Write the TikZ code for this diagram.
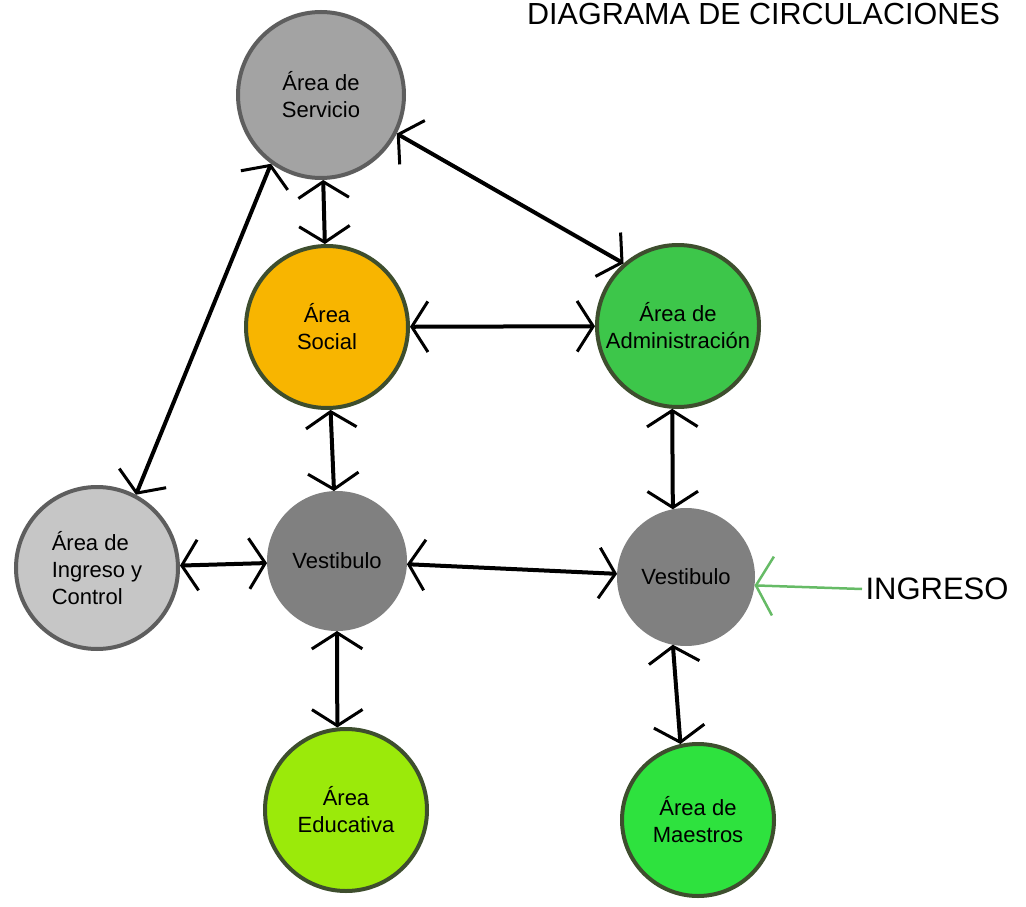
\documentclass[tikz,border=0pt]{standalone}
\usepackage{fontspec}
\setmainfont{Liberation Sans}
\usetikzlibrary{arrows.meta}

\definecolor{grisserv}{HTML}{A3A3A3}
\definecolor{grisingr}{HTML}{C6C6C6}
\definecolor{grisvest}{HTML}{808080}
\definecolor{naranja}{HTML}{F8B500}
\definecolor{verdeadm}{HTML}{3DC64A}
\definecolor{verdelima}{HTML}{9BEA0A}
\definecolor{verdemae}{HTML}{2EE23E}
\definecolor{bordeg}{HTML}{5E5E5E}
\definecolor{bordev}{HTML}{3E4E2E}
\definecolor{verdeflecha}{HTML}{66BB66}

\begin{document}
\begin{tikzpicture}[x=1pt, y=-1pt,
  area/.style={circle, line width=4pt, inner sep=0pt, align=center, font=\fontsize{22}{27}\selectfont},
  flecha/.style={<->, >={Straight Barb[angle=115:30pt, line width=3pt]}, line width=4pt},
  entrada/.style={->, >={Straight Barb[angle=120:34pt, line width=2.5pt]}, line width=2.5pt, draw=verdeflecha}]
\useasboundingbox (0,0) rectangle (1026,907);
\node[area, fill=grisserv, draw=bordeg, minimum size=166pt] (serv) at (321,95) {Área de\\Servicio};
\node[area, fill=naranja, draw=bordev, minimum size=162pt] (soc) at (327,327) {Área\\Social};
\node[area, fill=verdeadm, draw=bordev, minimum size=162pt] (adm) at (678,326) {Área de\\Administración};
\node[area, fill=grisingr, draw=bordeg, minimum size=162pt, align=left] (ingr) at (97,568) {Área de\\Ingreso y\\Control};
\node[area, fill=grisvest, draw=grisvest, minimum size=136pt] (vestl) at (337,561) {Vestibulo};
\node[area, fill=grisvest, draw=grisvest, minimum size=134pt] (vestr) at (686,577) {Vestibulo};
\node[area, fill=verdelima, draw=bordev, minimum size=162pt] (edu) at (346,810) {Área\\Educativa};
\node[area, fill=verdemae, draw=bordev, minimum size=152pt] (mae) at (698,820) {Área de\\Maestros};
% circulaciones
\draw[flecha] (serv.234) -- (ingr.62);
\draw[flecha] (serv) -- (soc);
\draw[flecha] (serv.333) -- (adm.131);
\draw[flecha] (soc) -- (adm);
\draw[flecha] (soc) -- (vestl);
\draw[flecha] (adm.266) -- (vestr.101);
\draw[flecha] (ingr) -- (vestl);
\draw[flecha] (vestl) -- (vestr);
\draw[flecha] (vestl.270) -- (edu.96);
\draw[flecha] (vestr.259) -- (mae.103);
% ingreso
\node[font=\fontsize{31}{36}\selectfont, anchor=west] (ing) at (862,589) {INGRESO};
\draw[entrada] (ing.west) -- (vestr.-7);
\node[font=\fontsize{30.5}{36}\selectfont, anchor=base west, inner sep=0pt] (titulo) at (527,25) {DIAGRAMA DE CIRCULACIONES};
\end{tikzpicture}
\end{document}
